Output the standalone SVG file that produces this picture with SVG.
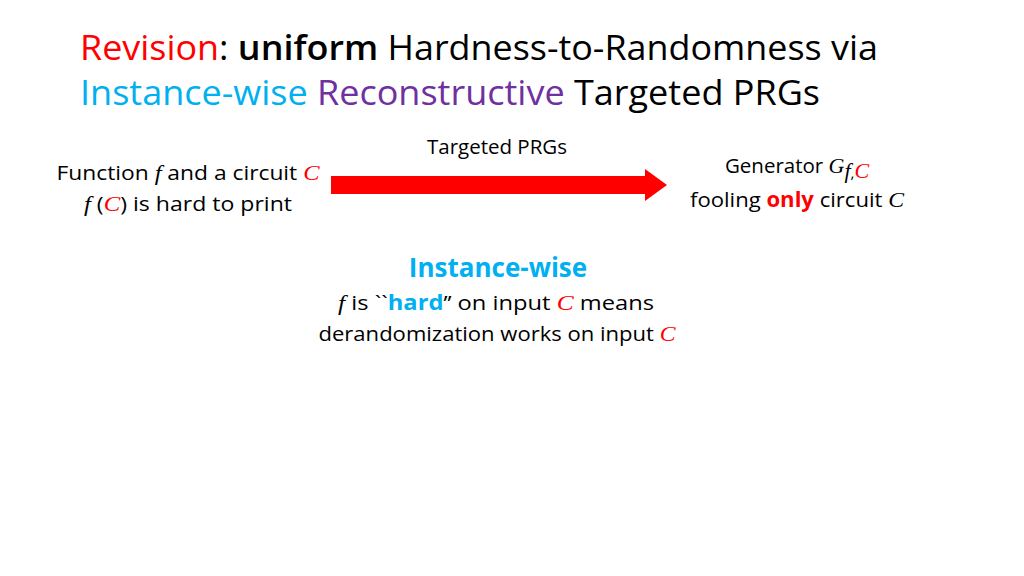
<svg xmlns="http://www.w3.org/2000/svg" width="1024" height="576" viewBox="0 0 1024 576">
<style>
text{font-family:"Open Sans","Liberation Sans",sans-serif;fill:#000}
.t{font-size:35px}
.s{font-size:20.5px}
.m{font-family:"Liberation Serif",serif;font-style:italic;font-size:22px}
.r{fill:#ff0000}
.b{fill:#00b0f0}
.p{fill:#7030a0}
</style>
<rect width="1024" height="576" fill="#fff"/>
<g id="title">
<text class="t" x="80" y="60" textLength="798" lengthAdjust="spacingAndGlyphs"><tspan class="r">Revision</tspan>: <tspan font-weight="600">uniform</tspan> Hardness-to-Randomness via</text>
<text class="t" x="80" y="105" textLength="740" lengthAdjust="spacingAndGlyphs"><tspan class="b">Instance-wise</tspan> <tspan class="p">Reconstructive</tspan> Targeted PRGs</text>
</g>
<g id="source">
<text class="s" x="188" y="180" text-anchor="middle" textLength="263" lengthAdjust="spacingAndGlyphs">Function <tspan class="m">f</tspan> and a circuit <tspan class="m r">C</tspan></text>
<text class="s" x="188" y="211" text-anchor="middle" textLength="208" lengthAdjust="spacingAndGlyphs"><tspan class="m">f</tspan> (<tspan class="m r">C</tspan>) is hard to print</text>
</g>
<g id="connectors">
<polygon points="331,176 645,176 645,169 667,185 645,201 645,194 331,194" fill="#ff0000"/>
<text class="s" x="497" y="154" text-anchor="middle">Targeted PRGs</text>
</g>
<g id="generator">
<text class="s" x="797" y="173" text-anchor="middle">Generator <tspan class="m" font-size="23">G</tspan><tspan class="m" font-size="16" dy="5">f</tspan><tspan font-size="15">,</tspan><tspan class="m r" font-size="16">C</tspan></text>
<text class="s" x="797" y="207" text-anchor="middle" textLength="214" lengthAdjust="spacingAndGlyphs">fooling <tspan class="r" font-weight="bold">only</tspan> circuit <tspan class="m">C</tspan></text>
</g>
<g id="instance">
<text x="498" y="277" text-anchor="middle" font-size="26" font-weight="bold" class="b">Instance-wise</text>
<text class="s" x="496" y="310" text-anchor="middle" textLength="316" lengthAdjust="spacingAndGlyphs"><tspan class="m">f</tspan> is ``<tspan class="b" font-weight="bold">hard</tspan>’’ on input <tspan class="m r">C</tspan> means</text>
<text class="s" x="497" y="341" text-anchor="middle" textLength="357" lengthAdjust="spacingAndGlyphs">derandomization works on input <tspan class="m r">C</tspan></text>
</g>
</svg>
